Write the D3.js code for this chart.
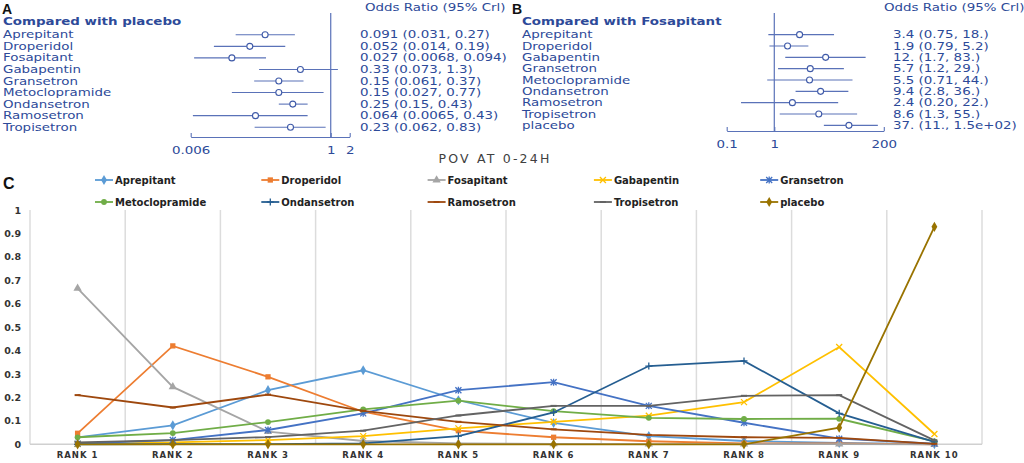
<!DOCTYPE html>
<html>
<head>
<meta charset="utf-8">
<script src="https://cdn.jsdelivr.net/npm/d3@7"></script>
<style>
  html, body { margin: 0; padding: 0; background: #fff; }
  svg { display: block; }
</style>
</head>
<body>
<div id="chart"></div>
<script>
// ---- panel A: compared with placebo
const drugsA = ["Aprepitant", "Droperidol", "Fosapitant", "Gabapentin", "Gransetron",
  "Metoclopramide", "Ondansetron", "Ramosetron", "Tropisetron"];
const orA = [0.091, 0.052, 0.027, 0.33, 0.15, 0.15, 0.25, 0.064, 0.23];
const loA = [0.031, 0.014, 0.0068, 0.073, 0.061, 0.027, 0.15, 0.0065, 0.062];
const hiA = [0.27, 0.19, 0.094, 1.3, 0.37, 0.77, 0.43, 0.43, 0.83];
const textA = ["0.091 (0.031, 0.27)", "0.052 (0.014, 0.19)", "0.027 (0.0068, 0.094)",
  "0.33 (0.073, 1.3)", "0.15 (0.061, 0.37)", "0.15 (0.027, 0.77)", "0.25 (0.15, 0.43)",
  "0.064 (0.0065, 0.43)", "0.23 (0.062, 0.83)"];
const ticksA = [0.006, 1, 2];

// ---- panel B: compared with Fosapitant
const drugsB = ["Aprepitant", "Droperidol", "Gabapentin", "Gransetron", "Metoclopramide",
  "Ondansetron", "Ramosetron", "Tropisetron", "placebo"];
const orB = [3.4, 1.9, 12, 5.7, 5.5, 9.4, 2.4, 8.6, 37];
const loB = [0.75, 0.79, 1.7, 1.2, 0.71, 2.8, 0.20, 1.3, 11];
const hiB = [18, 5.2, 83, 29, 44, 36, 22, 55, 150];
const textB = ["3.4 (0.75, 18.)", "1.9 (0.79, 5.2)", "12. (1.7, 83.)", "5.7 (1.2, 29.)",
  "5.5 (0.71, 44.)", "9.4 (2.8, 36.)", "2.4 (0.20, 22.)", "8.6 (1.3, 55.)", "37. (11., 1.5e+02)"];
const ticksB = [0.1, 1, 200];

// ---- panel C: rank probabilities
const ranks = ["RANK 1", "RANK 2", "RANK 3", "RANK 4", "RANK 5",
  "RANK 6", "RANK 7", "RANK 8", "RANK 9", "RANK 10"];
const seriesNames = ["Aprepitant", "Droperidol", "Fosapitant", "Gabapentin", "Gransetron",
  "Metoclopramide", "Ondansetron", "Ramosetron", "Tropisetron", "placebo"];
const aprepitant     = [0.030, 0.081, 0.231, 0.316, 0.188, 0.091, 0.035, 0.014, 0.006, 0.001];
const droperidol     = [0.047, 0.420, 0.288, 0.139, 0.058, 0.030, 0.013, 0.004, 0.004, 0.000];
const fosapitant     = [0.666, 0.245, 0.054, 0.014, 0.004, 0.002, 0.001, 0.001, 0.001, 0.000];
const gabapentin     = [0.001, 0.008, 0.018, 0.035, 0.068, 0.096, 0.122, 0.180, 0.415, 0.044];
const gransetron     = [0.003, 0.018, 0.061, 0.132, 0.231, 0.265, 0.164, 0.092, 0.024, 0.003];
const metoclopramide = [0.030, 0.048, 0.095, 0.149, 0.186, 0.142, 0.113, 0.108, 0.109, 0.013];
const ondansetron    = [0.000, 0.001, 0.001, 0.004, 0.035, 0.136, 0.334, 0.356, 0.132, 0.010];
const ramosetron     = [0.210, 0.157, 0.212, 0.143, 0.096, 0.064, 0.040, 0.030, 0.027, 0.002];
const tropisetron    = [0.008, 0.018, 0.031, 0.058, 0.123, 0.164, 0.164, 0.207, 0.210, 0.017];
const placebo        = [0.000, 0.000, 0.000, 0.000, 0.000, 0.000, 0.000, 0.000, 0.071, 0.928];
const seriesValues = [aprepitant, droperidol, fosapitant, gabapentin, gransetron,
  metoclopramide, ondansetron, ramosetron, tropisetron, placebo];
const seriesColors = ["#5B9BD5", "#ED7D31", "#A5A5A5", "#FFC000", "#4472C4",
  "#70AD47", "#255E91", "#9E480E", "#636363", "#997300"];
const seriesMarkers = ["diamond", "square", "triangle", "x", "star",
  "circle", "plus", "dash", "dash", "diamond"];
const yTicks = [0, 0.1, 0.2, 0.3, 0.4, 0.5, 0.6, 0.7, 0.8, 0.9, 1];

const W = 1024, H = 463;
const svg = d3.select("#chart").append("svg")
  .attr("width", W).attr("height", H)
  .attr("viewBox", [0, 0, W, H]);

const navy = "#2d4a99";
const ciBlue = "#5a72b8";
const font = "DejaVu Sans, Verdana, sans-serif";
const stretch = 1.22; // forest plot text is horizontally stretched in the figure

// text drawn at (x, y) and widened horizontally
function wideText(g, x, y, str, bold) {
  return g.append("text")
    .attr("transform", `translate(${x},${y}) scale(${stretch},1)`)
    .attr("dominant-baseline", "central")
    .attr("font-family", font).attr("font-size", 11)
    .attr("font-weight", bold ? "bold" : null)
    .attr("fill", navy).text(str);
}

function forest(opts) {
  const g = svg.append("g");
  const x = d3.scaleLog().domain(opts.domain).range(opts.xRange);
  const y = d3.scaleBand().domain(opts.drugs).range(opts.yRange);
  const cy = d => y(d) + y.bandwidth() / 2;

  g.append("text").attr("x", opts.letterX).attr("y", 13.5)
    .attr("font-family", "Liberation Sans, Arial, sans-serif").attr("font-weight", "bold")
    .attr("font-size", 14).attr("fill", "#111").text(opts.letter);

  wideText(g, opts.labelX, 21, opts.title, true);
  wideText(g, opts.orTitleX, 7, "Odds Ratio (95% Crl)");

  opts.drugs.forEach((d, i) => {
    wideText(g, opts.labelX, cy(d), d);
    wideText(g, opts.valX, cy(d), opts.text[i]);
  });

  // reference line at OR = 1
  g.append("line").attr("x1", x(1)).attr("x2", x(1))
    .attr("y1", 13).attr("y2", opts.axisY)
    .attr("stroke", ciBlue).attr("stroke-width", 1.2);

  g.selectAll(".ci").data(opts.drugs).join("line")
    .attr("x1", (d, i) => x(opts.lo[i])).attr("x2", (d, i) => x(opts.hi[i]))
    .attr("y1", d => cy(d)).attr("y2", d => cy(d))
    .attr("stroke", ciBlue).attr("stroke-width", 1.1);

  g.selectAll(".pt").data(opts.drugs).join("circle")
    .attr("cx", (d, i) => x(opts.or[i])).attr("cy", d => cy(d)).attr("r", 3)
    .attr("fill", "#fff").attr("stroke", "#3f5aa8").attr("stroke-width", 1.1);

  const ax = g.append("g").attr("transform", `translate(0,${opts.axisY})`)
    .call(d3.axisBottom(x).tickValues(opts.ticks).tickFormat(d => String(d))
      .tickSize(-4).tickSizeOuter(0).tickPadding(9));
  ax.select(".domain").attr("stroke", ciBlue).attr("stroke-width", 1.1);
  ax.selectAll(".tick line").attr("stroke", ciBlue).attr("stroke-width", 1.1);
  ax.selectAll(".tick text").attr("font-family", font).attr("font-size", 11).attr("fill", navy)
    .attr("transform", `scale(${stretch},1)`);
}

forest({
  letter: "A", letterX: 2, labelX: 3, title: "Compared with placebo",
  drugs: drugsA, or: orA, lo: loA, hi: hiA, text: textA, ticks: ticksA,
  domain: [0.006, 2], xRange: [190.7, 349.7], yRange: [29, 133], axisY: 137,
  orTitleX: 365, valX: 360
});

forest({
  letter: "B", letterX: 512, labelX: 522, title: "Compared with Fosapitant",
  drugs: drugsB, or: orB, lo: loB, hi: hiB, text: textB, ticks: ticksB,
  domain: [0.1, 200], xRange: [726.7, 883.8], yRange: [29, 131], axisY: 131,
  orTitleX: 884, valX: 893
});

// ---- panel C
const gc = svg.append("g");
gc.append("text").attr("x", 3).attr("y", 188.5)
  .attr("font-family", "Liberation Sans, Arial, sans-serif").attr("font-weight", "bold")
  .attr("font-size", 16).attr("fill", "#111").text("C");

gc.append("text").attr("x", 495).attr("y", 158).attr("text-anchor", "middle")
  .attr("dominant-baseline", "central")
  .attr("font-family", font).attr("font-size", 12.5).attr("letter-spacing", 2.2)
  .attr("fill", "#404040").text("POV AT 0-24H");

const x = d3.scaleBand().domain(ranks).range([30, 982]);
const y = d3.scaleLinear().domain([0, 1]).range([444.3, 210]);

// vertical gridlines at band edges
const edges = ranks.map(r => x(r)).concat([x.range()[1]]);
gc.selectAll(".grid").data(edges).join("line")
  .attr("x1", d => d).attr("x2", d => d).attr("y1", y(1)).attr("y2", y(0))
  .attr("stroke", "#dcdcdc").attr("stroke-width", 1.5);

gc.append("line").attr("x1", x.range()[0]).attr("x2", x.range()[1])
  .attr("y1", y(0)).attr("y2", y(0)).attr("stroke", "#d0d0d0").attr("stroke-width", 1.5);

gc.selectAll(".ytick").data(yTicks).join("text")
  .attr("x", 21).attr("y", d => y(d)).attr("text-anchor", "end").attr("dominant-baseline", "central")
  .attr("font-family", font).attr("font-weight", "bold").attr("font-size", 9.5).attr("fill", "#333")
  .text(d => d3.format("~g")(d));

gc.selectAll(".xtick").data(ranks).join("text")
  .attr("x", d => x(d) + x.bandwidth() / 2).attr("y", 455).attr("text-anchor", "middle")
  .attr("dominant-baseline", "central")
  .attr("font-family", font).attr("font-weight", "bold").attr("font-size", 8.5)
  .attr("letter-spacing", 1).attr("fill", "#333")
  .text(d => d);

function marker(sel, type, color) {
  const stroked = { x: "M-3,-3L3,3M-3,3L3,-3", star: "M-3,-3L3,3M-3,3L3,-3M0,-3.5L0,3.5",
    plus: "M-3.5,0L3.5,0M0,-3.5L0,3.5", dash: "M-3,0L3,0" };
  const filled = { diamond: d3.symbolDiamond, square: d3.symbolSquare,
    triangle: d3.symbolTriangle, circle: d3.symbolCircle };
  if (stroked[type]) {
    sel.attr("d", stroked[type]).attr("fill", "none").attr("stroke", color)
      .attr("stroke-width", type === "dash" ? 2 : 1.3);
  } else {
    const size = type === "square" ? 28 : type === "circle" ? 26 : 30;
    sel.attr("d", d3.symbol(filled[type], size)()).attr("fill", color).attr("stroke", "none");
  }
}

const line = d3.line().x((d, i) => x(ranks[i]) + x.bandwidth() / 2).y(d => y(d));

seriesNames.forEach((name, k) => {
  const s = gc.append("g");
  s.append("path").datum(seriesValues[k]).attr("d", line)
    .attr("fill", "none").attr("stroke", seriesColors[k]).attr("stroke-width", 1.8);
  s.selectAll("path.m").data(seriesValues[k]).join("path").attr("class", "m")
    .attr("transform", (d, i) => `translate(${x(ranks[i]) + x.bandwidth() / 2},${y(d)})`)
    .call(marker, seriesMarkers[k], seriesColors[k]);
});

// legend: 2 rows x 5 columns
const leg = gc.selectAll(".leg").data(seriesNames).join("g")
  .attr("transform", (d, i) => `translate(${95 + (i % 5) * 166.3},${i < 5 ? 180 : 202})`);
leg.append("line").attr("x1", 0).attr("x2", 18).attr("y1", 0).attr("y2", 0)
  .attr("stroke", (d, i) => seriesColors[i]).attr("stroke-width", 1.8);
leg.append("path").attr("transform", "translate(9,0)")
  .each(function(d, i) { marker(d3.select(this), seriesMarkers[i], seriesColors[i]); });
leg.append("text").attr("x", 20).attr("y", 0).attr("dominant-baseline", "central")
  .attr("font-family", font).attr("font-weight", "bold").attr("font-size", 10).attr("fill", "#222")
  .text(d => d);
</script>
</body>
</html>
